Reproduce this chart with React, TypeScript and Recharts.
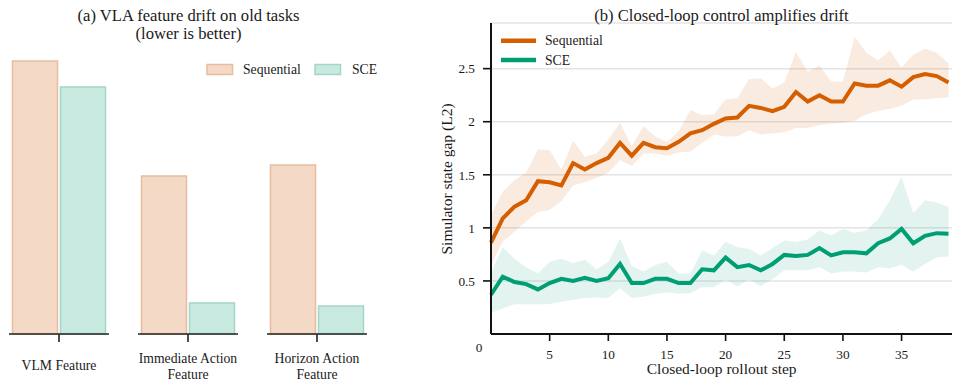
import React from 'react';
import {
  BarChart,
  Bar,
  ComposedChart,
  Line,
  Area,
  XAxis,
  YAxis,
  CartesianGrid,
} from 'recharts';

// ---- panel (a): feature drift per group ----
const groups = ['VLM Feature', 'Immediate Action\nFeature', 'Horizon Action\nFeature'];
const seqDrift = [2.73, 1.58, 1.69];
const sceDrift = [2.47, 0.31, 0.28];

// ---- panel (b): rollout drift ----
const steps = Array.from({ length: 40 }, (_, i) => i);
const seqMean = [0.86, 1.09, 1.2, 1.26, 1.44, 1.43, 1.4, 1.61, 1.55, 1.61, 1.66, 1.8, 1.68, 1.8, 1.76, 1.75, 1.81, 1.89, 1.92, 1.98, 2.03, 2.04, 2.15, 2.13, 2.1, 2.14, 2.28, 2.19, 2.25, 2.19, 2.19, 2.36, 2.34, 2.34, 2.39, 2.33, 2.42, 2.45, 2.43, 2.37];
const seqHi = [1.12, 1.34, 1.45, 1.52, 1.74, 1.73, 1.55, 1.82, 1.67, 1.7, 1.83, 1.99, 1.77, 1.96, 1.86, 1.81, 1.91, 2.11, 2.06, 2.07, 2.21, 2.22, 2.4, 2.41, 2.31, 2.37, 2.66, 2.47, 2.53, 2.38, 2.38, 2.8, 2.65, 2.58, 2.67, 2.51, 2.63, 2.69, 2.65, 2.55];
const seqLo = [0.65, 0.87, 0.965, 1.06, 1.15, 1.17, 1.25, 1.4, 1.43, 1.47, 1.52, 1.64, 1.58, 1.7, 1.7, 1.68, 1.71, 1.72, 1.8, 1.88, 1.86, 1.86, 1.92, 1.88, 1.89, 1.9, 1.94, 1.94, 1.97, 1.98, 1.99, 2.01, 2.07, 2.1, 2.12, 2.15, 2.21, 2.21, 2.22, 2.23];
const sceMean = [0.37, 0.54, 0.49, 0.47, 0.42, 0.48, 0.52, 0.5, 0.53, 0.5, 0.525, 0.66, 0.48, 0.48, 0.52, 0.52, 0.48, 0.48, 0.61, 0.6, 0.72, 0.63, 0.65, 0.6, 0.66, 0.745, 0.735, 0.745, 0.81, 0.74, 0.77, 0.77, 0.76, 0.855, 0.9, 0.99, 0.855, 0.925, 0.95, 0.945];
const sceHi = [0.58, 0.82, 0.71, 0.63, 0.57, 0.68, 0.71, 0.67, 0.7, 0.61, 0.68, 0.9, 0.64, 0.59, 0.65, 0.68, 0.57, 0.57, 0.79, 0.74, 0.87, 0.82, 0.8, 0.74, 0.81, 0.88, 0.87, 0.89, 0.975, 0.93, 0.99, 0.955, 0.975, 1.08, 1.26, 1.48, 1.14, 1.26, 1.24, 1.2];
const sceLo = [0.2, 0.24, 0.28, 0.28, 0.28, 0.28, 0.305, 0.32, 0.34, 0.345, 0.34, 0.43, 0.34, 0.35, 0.38, 0.39, 0.38, 0.385, 0.44, 0.44, 0.51, 0.45, 0.51, 0.45, 0.515, 0.6, 0.6, 0.6, 0.63, 0.57, 0.59, 0.59, 0.58, 0.63, 0.62, 0.65, 0.59, 0.66, 0.72, 0.73];
const xTicks = [5, 10, 15, 20, 25, 30, 35];
const yTicks = [0.5, 1, 1.5, 2, 2.5];

const SEQ = '#d55e00';
const SCE = '#009e73';
const SEQ_FILL = '#f4d9c7';
const SEQ_EDGE = '#e6bd9f';
const SCE_FILL = '#c8e9df';
const SCE_EDGE = '#a3d6c6';
const INK = '#1a1a1a';
const FONT = '"Liberation Serif", "Times New Roman", serif';

const rolloutRows = steps.map((s, i) => ({
  step: s,
  seq: seqMean[i],
  seqBand: [seqLo[i], seqHi[i]],
  sce: sceMean[i],
  sceBand: [sceLo[i], sceHi[i]],
}));

function GroupTick({ x, y, payload }: any) {
  const lines = String(payload.value).split('\n');
  const offsets = lines.length === 1 ? [21] : [14, 30];
  return (
    <g>
      {lines.map((ln, k) => (
        <text
          key={k}
          x={x}
          y={y + offsets[k]}
          textAnchor="middle"
          dominantBaseline="central"
          fontSize={13.7}
          fill={INK}
          fontFamily={FONT}
        >
          {ln}
        </text>
      ))}
    </g>
  );
}

function GroupChart({ idx, left }: { idx: number; left: number }) {
  const row = [{ name: groups[idx], seq: seqDrift[idx], sce: sceDrift[idx] }];
  return (
    <div style={{ position: 'absolute', left: left - 15, top: 0 }}>
      <BarChart
        width={130}
        height={379}
        data={row}
        margin={{ top: 50, right: 15, left: 15, bottom: 0 }}
        barCategoryGap={3.5}
        barGap={3}
      >
        <XAxis
          dataKey="name"
          height={45}
          interval={0}
          tickSize={8}
          axisLine={{ stroke: '#222', strokeWidth: 1.6 }}
          tickLine={{ stroke: '#222', strokeWidth: 1.6 }}
          tick={<GroupTick />}
        />
        <YAxis hide width={0} domain={[0, 2.84]} />
        <Bar dataKey="seq" fill={SEQ_FILL} stroke={SEQ_EDGE} strokeWidth={1.5} isAnimationActive={false} />
        <Bar dataKey="sce" fill={SCE_FILL} stroke={SCE_EDGE} strokeWidth={1.5} isAnimationActive={false} />
      </BarChart>
    </div>
  );
}

function Overlay() {
  const t = { fontFamily: FONT, fill: INK };
  return (
    <svg
      width={953}
      height={379}
      style={{ position: 'absolute', left: 0, top: 0, pointerEvents: 'none' }}
    >
      {/* titles */}
      <text {...t} x={188.5} y={15.7} fontSize={16.6} textAnchor="middle" dominantBaseline="central">
        (a) VLA feature drift on old tasks
      </text>
      <text {...t} x={188.5} y={33.3} fontSize={16.6} textAnchor="middle" dominantBaseline="central">
        (lower is better)
      </text>
      <text {...t} x={721.5} y={15.7} fontSize={16.6} textAnchor="middle" dominantBaseline="central">
        (b) Closed-loop control amplifies drift
      </text>

      {/* legend (a) */}
      <rect x={207} y={64.5} width={25.5} height={10} fill={SEQ_FILL} stroke={SEQ_EDGE} strokeWidth={1.5} />
      <text {...t} x={243} y={69.5} fontSize={13.7} dominantBaseline="central">Sequential</text>
      <rect x={315} y={64.5} width={25.5} height={10} fill={SCE_FILL} stroke={SCE_EDGE} strokeWidth={1.5} />
      <text {...t} x={352} y={69.5} fontSize={13.7} dominantBaseline="central">SCE</text>

      {/* legend (b) */}
      <line x1={501} x2={536} y1={40.7} y2={40.7} stroke={SEQ} strokeWidth={4.5} />
      <text {...t} x={545} y={40.7} fontSize={13.7} dominantBaseline="central">Sequential</text>
      <line x1={501} x2={536} y1={60} y2={60} stroke={SCE} strokeWidth={4.5} />
      <text {...t} x={545} y={60} fontSize={13.7} dominantBaseline="central">SCE</text>

      {/* axis labels (b) */}
      <text
        {...t}
        x={446}
        y={179}
        fontSize={15.5}
        textAnchor="middle"
        dominantBaseline="central"
        transform="rotate(-90 446 179)"
      >
        Simulator state gap (L2)
      </text>
      <text {...t} x={721.7} y={368.3} fontSize={15.5} textAnchor="middle" dominantBaseline="central">
        Closed-loop rollout step
      </text>
      <text {...t} x={479} y={347} fontSize={13.3} textAnchor="middle" dominantBaseline="central">
        0
      </text>
    </svg>
  );
}

export default function App() {
  return (
    <div
      style={{
        position: 'absolute',
        left: 0,
        top: 0,
        width: 953,
        height: 379,
        background: '#fff',
        fontFamily: FONT,
        overflow: 'hidden',
      }}
    >
      <GroupChart idx={0} left={9} />
      <GroupChart idx={1} left={138} />
      <GroupChart idx={2} left={267} />

      <div style={{ position: 'absolute', left: 430, top: 0 }}>
        <ComposedChart
          width={523}
          height={379}
          data={rolloutRows}
          margin={{ top: 23, right: 1, left: 0, bottom: 0 }}
        >
          <CartesianGrid vertical={false} stroke="#e4e4e4" strokeWidth={1.5} />
          <XAxis
            type="number"
            dataKey="step"
            domain={[0, 39.3]}
            ticks={xTicks}
            height={45}
            tickSize={7}
            tickMargin={9}
            axisLine={{ stroke: '#111', strokeWidth: 2 }}
            tickLine={{ stroke: '#111', strokeWidth: 1.6 }}
            tick={{ fill: INK, fontSize: 13.3, fontFamily: FONT }}
          />
          <YAxis
            domain={[0, 2.93]}
            ticks={yTicks}
            width={61}
            tickSize={8}
            tickMargin={8}
            axisLine={{ stroke: '#111', strokeWidth: 2 }}
            tickLine={{ stroke: '#111', strokeWidth: 1.6 }}
            tick={{ fill: INK, fontSize: 13.3, fontFamily: FONT }}
          />
          <Area dataKey="seqBand" stroke="none" fill={SEQ} fillOpacity={0.12} isAnimationActive={false} />
          <Area dataKey="sceBand" stroke="none" fill={SCE} fillOpacity={0.11} isAnimationActive={false} />
          <Line dataKey="seq" stroke={SEQ} strokeWidth={4} dot={false} isAnimationActive={false} />
          <Line dataKey="sce" stroke={SCE} strokeWidth={4} dot={false} isAnimationActive={false} />
        </ComposedChart>
      </div>

      <Overlay />
    </div>
  );
}
